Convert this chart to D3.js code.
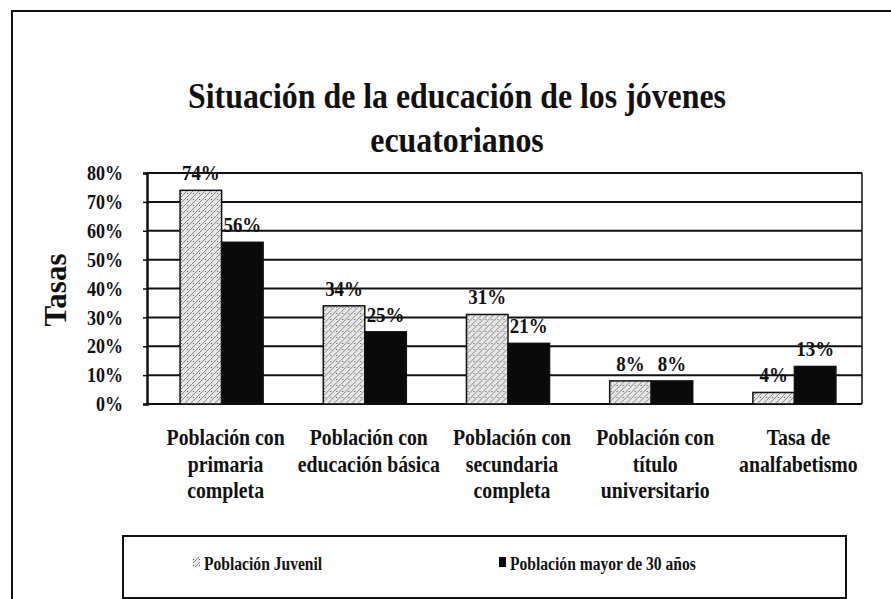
<!DOCTYPE html>
<html><head><meta charset="utf-8">
<script src="https://cdn.jsdelivr.net/npm/d3@7"></script>
<style>body{margin:0;background:#fff;} svg{display:block;}</style>
</head><body>
<svg id="c" width="891" height="599"></svg>
<script>
const categories = [
  ["Población con","primaria","completa"],
  ["Población con","educación básica"],
  ["Población con","secundaria","completa"],
  ["Población con","título","universitario"],
  ["Tasa de","analfabetismo"]
];
const seriesNames = ["Población Juvenil","Población mayor de 30 años"];
const juvenil = [74, 34, 31, 8, 4];
const mayor30 = [56, 25, 21, 8, 13];
const yTicks = [0,10,20,30,40,50,60,70,80];
const titleLines = ["Situación de la educación de los jóvenes","ecuatorianos"];
const yTitle = "Tasas";

const svg = d3.select("#c");
const FONT = "'Liberation Serif','Times New Roman',serif";
const L = 147, R = 862, T = 173, B = 404;
const SX = 0.86; // horizontal squeeze of the scanned lettering

const defs = svg.append("defs");
const pat = defs.append("pattern").attr("id","hatch").attr("patternUnits","userSpaceOnUse")
  .attr("width",6).attr("height",6);
pat.append("rect").attr("width",6).attr("height",6).attr("fill","#e6e6e6");
pat.append("path").attr("d","M-1,7 L7,-1 M-1,1 L1,-1 M5,7 L7,5").attr("stroke","#7a7a7a").attr("stroke-width",0.9);
pat.append("rect").attr("x",1).attr("y",1).attr("width",1).attr("height",1).attr("fill","#555");

// outer border
svg.append("path").attr("d","M12,599 L12,11 L891,11").attr("fill","none").attr("stroke","#111").attr("stroke-width",2);

const x0 = d3.scaleBand().domain(d3.range(categories.length)).range([150, 866]).paddingInner(0.42).paddingOuter(0.21);
const x1 = d3.scaleBand().domain([0,1]).range([0, x0.bandwidth()]);
const y = d3.scaleLinear().domain([0,80]).range([B,T]);

function stext(parent, x, yy, txt, size, anchor, sx){
  const gg = parent.append("g").attr("transform",`translate(${x},${yy}) scale(${sx||SX},1)`);
  return gg.append("text").attr("text-anchor",anchor||"middle").attr("font-family",FONT)
    .attr("font-weight","bold").attr("font-size",size).attr("fill","#111").text(txt);
}

// gridlines
svg.append("g").selectAll("line").data(yTicks).join("line")
  .attr("x1",L).attr("x2",R).attr("y1",d=>y(d)).attr("y2",d=>y(d))
  .attr("stroke","#111").attr("stroke-width",2);
svg.append("line").attr("x1",R).attr("x2",R).attr("y1",T).attr("y2",B).attr("stroke","#111").attr("stroke-width",1.5);

// y axis
const yAxis = d3.axisLeft(y).tickValues(yTicks).tickFormat(d=>d+"%").tickSize(4).tickPadding(20);
const ga = svg.append("g").attr("transform",`translate(${L},0)`).call(yAxis);
ga.select(".domain").attr("stroke","#111").attr("stroke-width",2.5);
ga.selectAll(".tick line").attr("stroke","#111").attr("stroke-width",1.5);
ga.selectAll(".tick text").attr("font-family",FONT).attr("font-weight","bold").attr("font-size",21).attr("fill","#111")
  .attr("transform",function(){const x=+this.getAttribute("x"); return `translate(${x*(1-SX)},0) scale(${SX},1)`;});

// bars
const data = categories.map((c,i)=>({i, vals:[juvenil[i], mayor30[i]]}));
const g = svg.append("g").selectAll("g").data(data).join("g").attr("transform",d=>`translate(${x0(d.i)},0)`);
g.selectAll("rect").data(d=>d.vals.map((v,k)=>({v,k}))).join("rect")
  .attr("x",d=>x1(d.k)).attr("width",x1.bandwidth())
  .attr("y",d=>y(d.v)).attr("height",d=>B-y(d.v))
  .attr("fill",d=>d.k===0?"url(#hatch)":"#0a0a0a")
  .attr("stroke","#111").attr("stroke-width",1.5);
g.each(function(d){
  const gg = d3.select(this);
  d.vals.forEach((v,k)=>stext(gg, x1(k)+x1.bandwidth()/2, y(v)-10, v+"%", 22));
});

// category labels
categories.forEach((lines,i)=>{
  lines.forEach((ln,j)=>stext(svg, x0(i)+x0.bandwidth()/2+4, 445+j*26.5, ln, 23));
});

// y title
svg.append("text").attr("transform","translate(66,290) rotate(-90)").attr("text-anchor","middle")
  .attr("font-family",FONT).attr("font-weight","bold").attr("font-size",31).attr("fill","#111").text(yTitle);

// title
titleLines.forEach((t,i)=>stext(svg, 457, 108+i*44, t, 36, "middle", 0.885));

// legend
svg.append("rect").attr("x",123).attr("y",536).attr("width",723).attr("height",62).attr("fill","none").attr("stroke","#111").attr("stroke-width",2);
const legX = [193, 499];
seriesNames.forEach((s,i)=>{
  svg.append("rect").attr("x",legX[i]).attr("y",557).attr("width",7).attr("height",10)
    .attr("fill",i===0?"url(#hatch)":"#0a0a0a");
  stext(svg, legX[i]+11, 570, s, 19.5, "start", 0.8);
});
</script>
</body></html>
